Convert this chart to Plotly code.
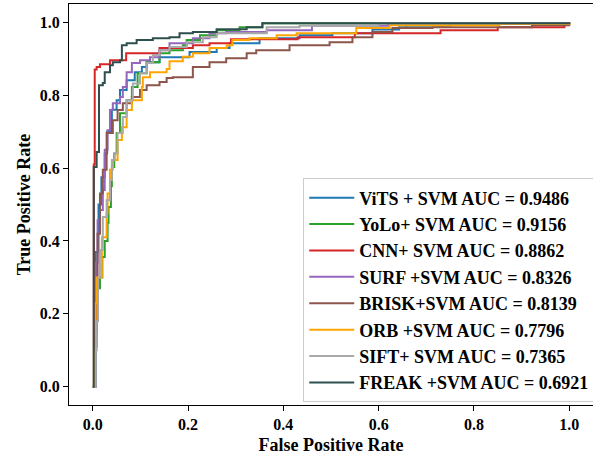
import plotly.graph_objects as go

# ROC curves
vits_fpr = [0, 0.006, 0.012, 0.018, 0.025, 0.03, 0.04, 0.05, 0.057, 0.071, 0.088, 0.103, 0.113, 0.14,
            0.203, 0.26, 0.287, 0.35, 0.434, 0.503, 0.587, 0.643, 0.658, 0.75, 1.0]
vits_tpr = [0, 0.37, 0.5, 0.575, 0.64, 0.70, 0.76, 0.786, 0.814, 0.841, 0.863, 0.877, 0.89, 0.904,
            0.918, 0.929, 0.942, 0.956, 0.964, 0.97, 0.98, 0.986, 0.99, 0.997, 1.0]

yolo_fpr = [0, 0.004, 0.008, 0.015, 0.02, 0.025, 0.031, 0.033, 0.038, 0.04, 0.045, 0.05, 0.057, 0.071,
            0.082, 0.094, 0.113, 0.14, 0.161, 0.189, 0.197, 0.225, 0.26, 0.308, 0.356, 1.0]
yolo_tpr = [0, 0.15, 0.27, 0.30, 0.356, 0.40, 0.45, 0.493, 0.55, 0.603, 0.64, 0.696, 0.75, 0.786,
            0.822, 0.86, 0.89, 0.915, 0.923, 0.937, 0.951, 0.964, 0.978, 0.986, 0.997, 1.0]

cnn_fpr = [0, 0.002, 0.004, 0.008, 0.015, 0.036, 0.07, 0.14, 0.21, 0.245, 0.29, 0.43, 0.55, 0.73,
           0.85, 0.99, 1.0]
cnn_tpr = [0, 0.61, 0.87, 0.877, 0.885, 0.896, 0.915, 0.929, 0.937, 0.942, 0.953, 0.959, 0.970, 0.978,
           0.986, 0.994, 1.0]

surf_fpr = [0, 0.005, 0.007, 0.01, 0.015, 0.021, 0.025, 0.031, 0.036, 0.042, 0.057, 0.063, 0.071, 0.082,
            0.099, 0.12, 0.14, 0.161, 0.21, 0.245, 0.28, 0.365, 0.46, 0.62, 1.0]
surf_tpr = [0, 0.1, 0.34, 0.457, 0.485, 0.54, 0.65, 0.704, 0.759, 0.778, 0.795, 0.822, 0.863, 0.888,
            0.896, 0.904, 0.923, 0.942, 0.956, 0.97, 0.973, 0.978, 0.99, 0.997, 1.0]

brisk_fpr = [0, 0.005, 0.008, 0.01, 0.015, 0.021, 0.029, 0.042, 0.052, 0.063, 0.082, 0.099, 0.113, 0.14,
             0.155, 0.168, 0.21, 0.245, 0.28, 0.323, 0.343, 0.413, 0.497, 0.545, 0.587, 0.629, 0.713,
             0.922, 1.0]
brisk_tpr = [0, 0.11, 0.23, 0.42, 0.53, 0.595, 0.696, 0.731, 0.759, 0.778, 0.795, 0.814, 0.827, 0.836,
             0.847, 0.849, 0.877, 0.89, 0.901, 0.915, 0.923, 0.937, 0.945, 0.959, 0.973, 0.984, 0.986,
             0.992, 1.0]

orb_fpr = [0, 0.004, 0.006, 0.008, 0.019, 0.029, 0.031, 0.036, 0.042, 0.052, 0.061, 0.071, 0.082, 0.103,
           0.105, 0.12, 0.155, 0.161, 0.189, 0.21, 0.245, 0.281, 0.293, 0.329, 0.386, 0.428, 0.553,
           0.623, 0.853, 1.0]
orb_tpr = [0, 0.1, 0.23, 0.30, 0.41, 0.477, 0.53, 0.595, 0.622, 0.677, 0.712, 0.759, 0.786, 0.822,
           0.849, 0.863, 0.872, 0.893, 0.905, 0.915, 0.929, 0.937, 0.951, 0.956, 0.964, 0.97, 0.984,
           0.992, 0.995, 1.0]

sift_fpr = [0, 0.006, 0.008, 0.011, 0.015, 0.021, 0.029, 0.036, 0.04, 0.046, 0.052, 0.063, 0.071, 0.084,
            0.099, 0.113, 0.126, 0.14, 0.161, 0.197, 0.231, 0.26, 0.365, 0.434, 0.6, 1.0]
sift_tpr = [0, 0.1, 0.18, 0.30, 0.375, 0.466, 0.512, 0.567, 0.622, 0.641, 0.696, 0.74, 0.786, 0.832,
            0.86, 0.888, 0.91, 0.923, 0.932, 0.945, 0.959, 0.97, 0.986, 0.99, 0.997, 1.0]

freak_fpr = [0, 0.002, 0.008, 0.013, 0.021, 0.025, 0.036, 0.042, 0.057, 0.061, 0.071, 0.092, 0.126,
             0.161, 0.182, 0.21, 0.26, 0.323, 0.356, 1.0]
freak_tpr = [0, 0.603, 0.644, 0.827, 0.833, 0.863, 0.882, 0.89, 0.896, 0.937, 0.942, 0.951, 0.956,
             0.959, 0.97, 0.973, 0.981, 0.986, 0.997, 1.0]

names = ["ViTS + SVM AUC = 0.9486", "YoLo+ SVM AUC = 0.9156", "CNN+ SVM AUC = 0.8862",
         "SURF +SVM AUC = 0.8326", "BRISK+SVM AUC = 0.8139", "ORB +SVM AUC = 0.7796",
         "SIFT+ SVM AUC = 0.7365", "FREAK +SVM AUC = 0.6921"]
colors = ["#1f77b4", "#2ca02c", "#d62728", "#9467bd", "#8c564b", "#ffa500", "#a9a9a9", "#2f4f4f"]
curves = [(vits_fpr, vits_tpr), (yolo_fpr, yolo_tpr), (cnn_fpr, cnn_tpr), (surf_fpr, surf_tpr),
          (brisk_fpr, brisk_tpr), (orb_fpr, orb_tpr), (sift_fpr, sift_tpr), (freak_fpr, freak_tpr)]

font = "Liberation Serif, Times New Roman, serif"

fig = go.Figure()
for (fpr, tpr), name, col in zip(curves, names, colors):
    fig.add_trace(go.Scatter(x=fpr, y=tpr, mode="lines", name=name,
                             line=dict(color=col, width=2, shape="hv")))

axis_common = dict(
    showline=True, linecolor="black", linewidth=1, mirror=True,
    ticks="outside", ticklen=5, tickwidth=1, tickcolor="black",
    showgrid=False, zeroline=False,
    tickfont=dict(family=font, size=16, color="black", weight="bold"),
    tickvals=[0, 0.2, 0.4, 0.6, 0.8, 1.0], ticktext=["0.0", "0.2", "0.4", "0.6", "0.8", "1.0"],
)

fig.update_layout(
    width=593, height=455,
    margin=dict(l=69, r=0, t=4, b=50, autoexpand=False),
    plot_bgcolor="white", paper_bgcolor="white",
    xaxis=dict(axis_common, range=[-0.05, 1.05],
               title=dict(text="False Positive Rate", standoff=7,
                          font=dict(family=font, size=18, color="black", weight="bold"))),
    yaxis=dict(axis_common, range=[-0.05, 1.05],
               title=dict(text="True Positive Rate", standoff=4,
                          font=dict(family=font, size=18, color="black", weight="bold"))),
    legend=dict(x=0.447, y=0.565, xanchor="left", yanchor="top", itemwidth=45,
                bgcolor="white", bordercolor="#cccccc", borderwidth=1,
                font=dict(family=font, size=18, color="black", weight="bold")),
)

# page default body margin would shift the chart by 8px
fig.write_html("out.html", config={"displayModeBar": False},
               post_script="document.body.style.margin='0px';")
